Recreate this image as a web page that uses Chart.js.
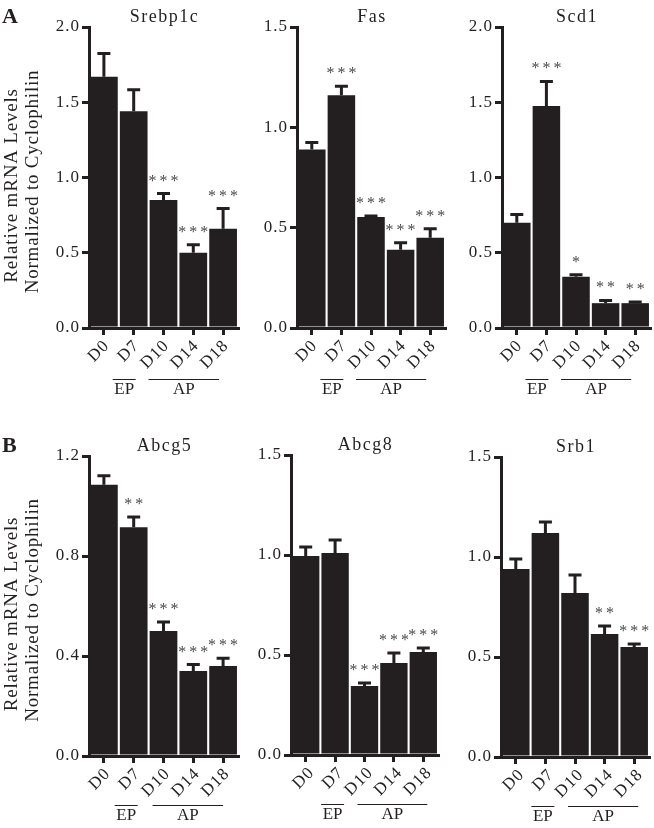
<!DOCTYPE html>
<html><head><meta charset="utf-8">
<script src="https://cdn.jsdelivr.net/npm/chart.js@4.4.0/dist/chart.umd.min.js"></script>
<style>
html,body{margin:0;padding:0;background:#fff;}
body{width:654px;height:828px;position:relative;overflow:hidden;}
canvas{position:absolute;}
</style></head><body>
<canvas id="c0"></canvas><canvas id="c1"></canvas><canvas id="c2"></canvas>
<canvas id="c3"></canvas><canvas id="c4"></canvas><canvas id="c5"></canvas>
<script>
// ---------- data ----------
const categories = ['D0', 'D7', 'D10', 'D14', 'D18'];
const groupLabels = ['EP', 'AP'];
const yLabelLines = ['Relative mRNA Levels', 'Normalized to Cyclophilin'];
const panelLetters = ['A', 'B'];
const titles = ['Srebp1c', 'Fas', 'Scd1', 'Abcg5', 'Abcg8', 'Srb1'];
const yMax = [2.0, 1.5, 2.0, 1.2, 1.5, 1.5];
const yStep = [0.5, 0.5, 0.5, 0.4, 0.5, 0.5];

const srebp1cMean = [1.67, 1.44, 0.85, 0.50, 0.66];
const srebp1cErr  = [0.16, 0.15, 0.05, 0.06, 0.14];
const srebp1cSig  = ['', '', '***', '***', '***'];

const fasMean = [0.89, 1.16, 0.553, 0.39, 0.45];
const fasErr  = [0.04, 0.05, 0.01, 0.04, 0.05];
const fasSig  = ['', '***', '***', '***', '***'];

const scd1Mean = [0.70, 1.475, 0.34, 0.165, 0.165];
const scd1Err  = [0.06, 0.17, 0.02, 0.025, 0.015];
const scd1Sig  = ['', '***', '*', '**', '**'];

const abcg5Mean = [1.085, 0.915, 0.50, 0.34, 0.36];
const abcg5Err  = [0.04, 0.045, 0.04, 0.03, 0.035];
const abcg5Sig  = ['', '**', '***', '***', '***'];

const abcg8Mean = [0.995, 1.01, 0.345, 0.46, 0.515];
const abcg8Err  = [0.05, 0.07, 0.02, 0.055, 0.025];
const abcg8Sig  = ['', '', '***', '***', '***'];

const srb1Mean = [0.94, 1.12, 0.82, 0.615, 0.55];
const srb1Err  = [0.055, 0.06, 0.095, 0.045, 0.02];
const srb1Sig  = ['', '', '', '**', '***'];

const means = [srebp1cMean, fasMean, scd1Mean, abcg5Mean, abcg8Mean, srb1Mean];
const errs  = [srebp1cErr, fasErr, scd1Err, abcg5Err, abcg8Err, srb1Err];
const sigs  = [srebp1cSig, fasSig, scd1Sig, abcg5Sig, abcg8Sig, srb1Sig];

// ---------- layout / style ----------
const FONT = "'Liberation Serif', 'Times New Roman', serif";
const INK = '#231f20';
const STAR = '#4a4a4c';
// canvas box and chart-area box (page pixels)
const layout = [
  {cv:[0,0,250,410],   area:[89,238,27,328],  brk:[0,0],  lo:3, first:true, letter:0},
  {cv:[250,0,200,410], area:[297,445,27,328], brk:[0,0],  lo:3},
  {cv:[450,0,204,410], area:[502,650,27,328], brk:[0,0],  lo:3},
  {cv:[0,420,250,408], area:[89,238,456,756], brk:[2,4],  lo:4, first:true, letter:1},
  {cv:[250,420,200,408], area:[291,438,455,755], brk:[7,8], lo:6},
  {cv:[450,420,204,408], area:[501,649,457,757], brk:[7,8], lo:6}
];

const decorPlugin = {
  id: 'decor',
  beforeDraw(chart) { chart.ctx.letterSpacing = '1px'; },
  afterDatasetsDraw(chart, args, opts) {
    const ctx = chart.ctx;
    const meta = chart.getDatasetMeta(0);
    const ys = chart.scales.y;
    const m = opts.mean, e = opts.err, s = opts.sig;
    ctx.save();
    ctx.strokeStyle = INK;
    ctx.lineWidth = 3;
    meta.data.forEach((bar, i) => {
      const x = bar.x;
      const y0 = ys.getPixelForValue(m[i]);
      const y1 = ys.getPixelForValue(m[i] + e[i]);
      ctx.beginPath();
      ctx.moveTo(x, y0); ctx.lineTo(x, y1);
      ctx.moveTo(x - 6.5, y1 + 1); ctx.lineTo(x + 6.5, y1 + 1);
      ctx.stroke();
      if (s[i]) {
        ctx.fillStyle = STAR;
        ctx.font = '16px ' + FONT;
        ctx.letterSpacing = '3px';
        ctx.textAlign = 'center';
        ctx.textBaseline = 'alphabetic';
        ctx.fillText(s[i], x + 1.5, y1 - 7);
      }
    });
    ctx.restore();
  },
  afterDraw(chart, args, opts) {
    const ctx = chart.ctx;
    const a = chart.chartArea;
    const xs = chart.scales.x;
    ctx.save();
    ctx.fillStyle = INK;
    ctx.strokeStyle = INK;
    // title
    ctx.font = '18px ' + FONT;
    ctx.letterSpacing = '1.5px';
    ctx.textAlign = 'center';
    ctx.textBaseline = 'alphabetic';
    ctx.fillText(opts.title, (a.left + a.right) / 2 + 1, a.top - 5);
    // group brackets
    const sh = opts.brk;
    const yl = a.bottom + (opts.row === 0 ? 51 : 49);
    const ep = [xs.getPixelForValue(1) - 21 + sh[0], xs.getPixelForValue(1) + 2 + sh[0]];
    const ap = [xs.getPixelForValue(2) - 15 + sh[1], xs.getPixelForValue(4) - 4 + sh[1]];
    ctx.lineWidth = 1;
    [ep, ap].forEach((g, k) => {
      ctx.beginPath();
      ctx.moveTo(g[0], yl + 0.5); ctx.lineTo(g[1], yl + 0.5);
      ctx.stroke();
      ctx.font = '17px ' + FONT;
      ctx.letterSpacing = '0px';
      ctx.fillText(groupLabels[k], (g[0] + g[1]) / 2, yl + 15);
    });
    if (opts.first) {
      // panel letter
      ctx.font = 'bold 22px ' + FONT;
      ctx.textAlign = 'left';
      ctx.fillText(panelLetters[opts.letter], 2, a.top - 4);
      // y title
      const cy = (a.top + a.bottom) / 2 + 4;
      ctx.font = '19px ' + FONT;
      ctx.letterSpacing = '0.8px';
      ctx.textAlign = 'center';
      ctx.save();
      ctx.translate(17, cy + 4); ctx.rotate(-Math.PI / 2);
      ctx.fillText(yLabelLines[0], 0, 0);
      ctx.restore();
      ctx.save();
      ctx.translate(38, cy); ctx.rotate(-Math.PI / 2);
      ctx.fillText(yLabelLines[1], 0, 0);
      ctx.restore();
    }
    ctx.restore();
  }
};

layout.forEach((L, i) => {
  const cvs = document.getElementById('c' + i);
  const [CL, CT, CW, CH] = L.cv;
  const [al, ar, at, ab] = L.area;
  cvs.width = CW; cvs.height = CH;
  cvs.style.left = CL + 'px'; cvs.style.top = CT + 'px';
  cvs.style.width = CW + 'px'; cvs.style.height = CH + 'px';
  const tickFont = {family: FONT, size: 17};
  new Chart(cvs, {
    type: 'bar',
    data: {
      labels: categories,
      datasets: [{
        data: means[i],
        backgroundColor: INK,
        borderWidth: 0,
        barPercentage: 0.93,
        categoryPercentage: 1.0
      }]
    },
    options: {
      responsive: false,
      animation: false,
      devicePixelRatio: 1,
      layout: {padding: {left: 0, right: CW - (ar - CL), top: at - CT, bottom: 0}},
      plugins: {
        legend: {display: false},
        tooltip: {enabled: false},
        decor: {
          mean: means[i], err: errs[i], sig: sigs[i], title: titles[i],
          brk: L.brk, first: !!L.first, letter: L.letter, row: i < 3 ? 0 : 1
        }
      },
      scales: {
        x: {
          type: 'category',
          offset: true,
          grid: {display: true, offset: false, drawOnChartArea: false, drawTicks: true,
                 tickLength: 7, lineWidth: 3, color: INK},
          border: {display: true, width: 3, color: INK},
          ticks: {color: INK, font: tickFont, maxRotation: 45, minRotation: 45,
                  padding: 1, labelOffset: L.lo, autoSkip: false},
          afterFit(s) { s.height = CH - (ab - CT); s.paddingLeft = 0; s.paddingRight = 0; }
        },
        y: {
          min: 0, max: yMax[i],
          grid: {display: true, drawOnChartArea: false, drawTicks: true,
                 tickLength: 7, lineWidth: 3, color: INK},
          border: {display: true, width: 3, color: INK},
          ticks: {stepSize: yStep[i], color: INK, font: tickFont, padding: 2,
                  callback: v => Number(v).toFixed(1)},
          afterFit(s) { s.width = (al - CL); s.paddingTop = 0; s.paddingBottom = 0; }
        }
      }
    },
    plugins: [decorPlugin]
  });
});
</script>
</body></html>
